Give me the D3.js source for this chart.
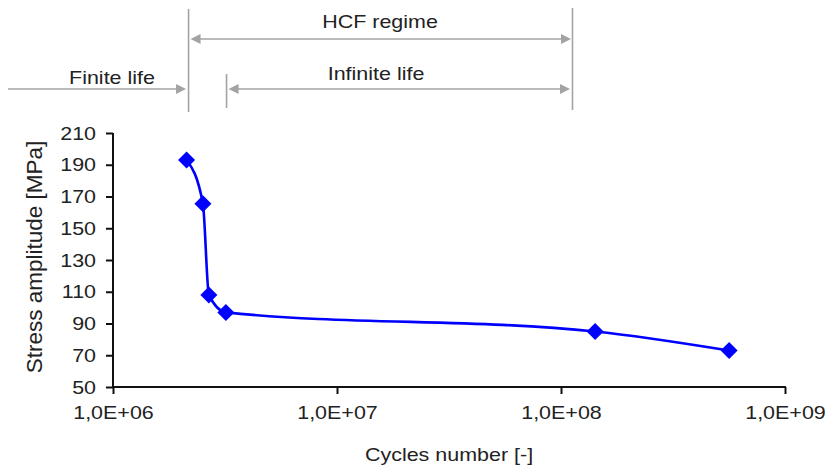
<!DOCTYPE html>
<html><head><meta charset="utf-8">
<script src="https://cdn.jsdelivr.net/npm/d3@7"></script>
<style>body{margin:0;background:#fff}text{font-family:"Liberation Sans",Arial,sans-serif}</style>
</head><body><svg id="c" width="825" height="467"></svg>
<script>
const cycles = [2.13e6, 2.52e6, 2.68e6, 3.19e6, 1.42e8, 5.63e8];
const stress = [193, 165.5, 108, 97, 85, 73];
const yTicks = [50, 70, 90, 110, 130, 150, 170, 190, 210];
const xTicks = [1e6, 1e7, 1e8, 1e9];
const xTickLabels = ["1,0E+06", "1,0E+07", "1,0E+08", "1,0E+09"];
const regimeBounds = [2.13e6, 3.19e6, 1.2e8];

const SX = 1.13, FS = 19;
const svg = d3.select("#c");
const x = d3.scaleLog().domain([1e6, 1e9]).range([113, 785]);
const y = d3.scaleLinear().domain([50, 210]).range([387, 133]);

const gx = svg.append("g").attr("transform", "translate(0,387)")
  .call(d3.axisBottom(x).tickValues(xTicks).tickFormat((d, i) => xTickLabels[i]).tickSizeOuter(0).tickSize(7).tickPadding(12));
const gy = svg.append("g").attr("transform", "translate(113,0)")
  .call(d3.axisLeft(y).tickValues(yTicks).tickSizeOuter(0).tickSize(7).tickPadding(8));
[gx, gy].forEach(g => {
  g.select(".domain").attr("stroke", "#111").attr("stroke-width", 2);
  g.selectAll(".tick line").attr("stroke", "#111").attr("stroke-width", 2);
  g.selectAll(".tick text").attr("fill", "#222").attr("font-size", FS)
    .attr("font-family", "Liberation Sans, Arial, sans-serif")
    .attr("transform", `scale(${SX},1)`);
});
gx.select(".domain").attr("d", "M112,0H786");
gy.select(".domain").attr("d", "M0,133V388");

function label(txt, cx, by, rot) {
  svg.append("text")
    .attr("transform", rot ? `translate(${cx},${by}) rotate(-90)` : `translate(${cx},${by}) scale(${SX},1)`)
    .attr("text-anchor", "middle").attr("font-size", rot ? 22.5 : FS).attr("fill", "#222").text(txt);
}
label("Cycles number [-]", 449, 461);
label("Stress amplitude [MPa]", 42, 257, true);

const pts = cycles.map((c, i) => [x(c), y(stress[i])]);
svg.append("path").attr("d", d3.line().curve(d3.curveMonotoneX)(pts))
  .attr("fill", "none").attr("stroke", "#0000ff").attr("stroke-width", 2.6);
svg.selectAll(".m").data(pts).enter().append("path")
  .attr("transform", d => `translate(${d[0]},${d[1]})`)
  .attr("d", "M0,-8.5L8.5,0L0,8.5L-8.5,0Z").attr("fill", "#0000ff");

const gray = "#a3a3a3";
const bx0 = x(regimeBounds[0]) + 2, bx1 = x(regimeBounds[1]) + 0.7, bx2 = 572.5;
const ann = svg.append("g").attr("stroke", gray).attr("stroke-width", 1.6);
ann.append("line").attr("x1", bx0).attr("x2", bx0).attr("y1", 9).attr("y2", 112);
ann.append("line").attr("x1", bx1).attr("x2", bx1).attr("y1", 74).attr("y2", 108);
ann.append("line").attr("x1", bx2).attr("x2", bx2).attr("y1", 8).attr("y2", 110);
function arrow(xa, xb, yy, left, right) {
  ann.append("line").attr("x1", xa + (left ? 8 : 0)).attr("x2", xb - (right ? 8 : 0)).attr("y1", yy).attr("y2", yy);
  if (right) svg.append("path").attr("d", `M${xb},${yy}L${xb - 10},${yy - 5}L${xb - 10},${yy + 5}Z`).attr("fill", gray);
  if (left) svg.append("path").attr("d", `M${xa},${yy}L${xa + 10},${yy - 5}L${xa + 10},${yy + 5}Z`).attr("fill", gray);
}
arrow(bx0 + 2, bx2 - 1.5, 39, true, true);
arrow(8, bx0 - 2.5, 89, false, true);
arrow(bx1 + 2, bx2 - 2.5, 89, true, true);

label("HCF regime", 380, 28);
label("Finite life", 112, 84);
label("Infinite life", 376, 80);
</script></body></html>
